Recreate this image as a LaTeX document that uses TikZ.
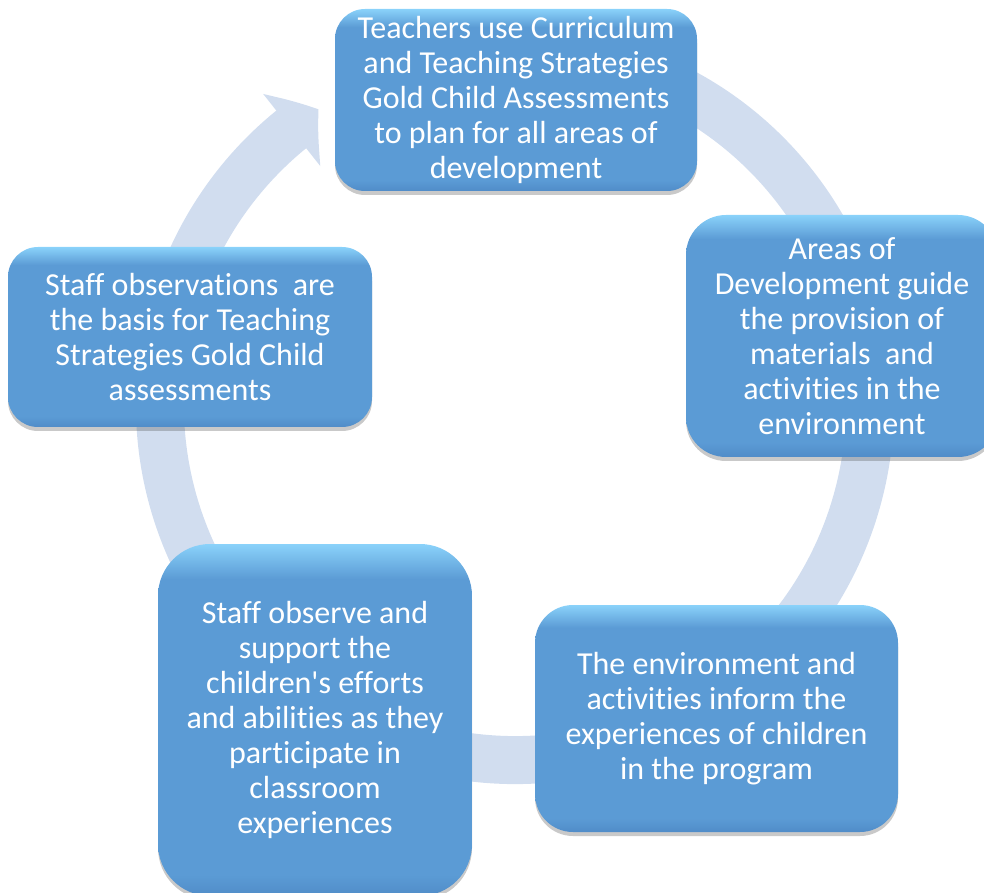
\documentclass[tikz,border=0pt]{standalone}
\usepackage{fontspec}
\setmainfont{Carlito}[Ligatures=NoCommon]
\usetikzlibrary{arrows.meta,bending,shadows}

\definecolor{stagefill}{RGB}{91,155,213}
\definecolor{stagerim}{RGB}{138,210,250}
\definecolor{stagelow}{RGB}{80,140,200}
\definecolor{ringfill}{RGB}{209,221,239}

\pgfdeclareverticalshading{stageshade}{100bp}{color(0bp)=(stagelow); color(25bp)=(stagelow); color(28bp)=(stagefill); color(70bp)=(stagefill); color(75bp)=(stagerim); color(100bp)=(stagerim)}

\tikzset{
  stage/.style={shading=stageshade, rounded corners=#1, text=white, align=center, inner sep=0pt,
    font=\fontsize{32}{35}\selectfont,
    drop shadow={shadow xshift=0pt, shadow yshift=-4pt, opacity=.3, fill=black!70}},
  cyclering/.style={draw=ringfill, line width=48pt, -{Triangle[width=90pt,length=34pt,bend]}}
}

\begin{document}
\begin{tikzpicture}[x=1pt,y=1pt]

\useasboundingbox (0,0) rectangle (984,892);

%the big ring behind the boxes
\coordinate (hub) at (515,487);
\draw[cyclering] (hub) ++(75:355) arc[start angle=75, end angle=-236.4, radius=355];

\node (plan) at (516,792)[stage=30pt, minimum width=362pt, minimum height=182pt]{Teachers use Curriculum\\and Teaching Strategies\\Gold Child Assessments\\to plan for all areas of\\development};

\node (areas) at (842,556)[stage=40pt, minimum width=312pt, minimum height=242pt]{Areas of\\Development guide\\the provision of\\materials\ \ and\\activities in the\\environment};

\node (inform) at (716.5,173.5)[stage=38pt, minimum width=363pt, minimum height=227pt]{The environment and\\activities inform the\\experiences of children\\in the program};

\node (observe) at (315,172)[stage=52pt, minimum width=314pt, minimum height=352pt]{Staff observe and\\support the\\children\textquotesingle s efforts\\and abilities as they\\participate in\\classroom\\experiences};

\node (basis) at (190,555)[stage=30pt, minimum width=364pt, minimum height=180pt]{Staff observations\ \ are\\the basis for Teaching\\Strategies Gold Child\\assessments};

\end{tikzpicture}
\end{document}
